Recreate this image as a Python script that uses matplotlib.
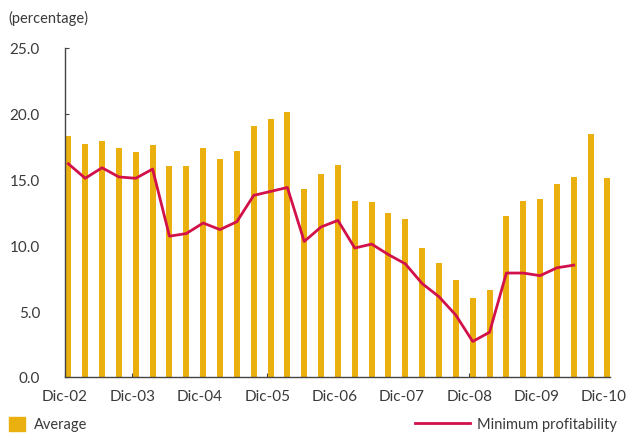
#!/usr/bin/env python3
"""Average vs minimum profitability, quarterly Dic-02 to Dic-10."""

import matplotlib
matplotlib.use("Agg")
import matplotlib.pyplot as plt
from matplotlib.patches import Patch
from matplotlib.lines import Line2D
import numpy as np

# Quarterly values, Dic-02 .. Dic-10 (33 quarters)
average = [
    18.3, 17.7, 17.9, 17.4, 17.1, 17.6, 16.0, 16.0, 17.4, 16.6, 17.2,
    19.1, 19.6, 20.1, 14.3, 15.4, 16.1, 13.4, 13.3, 12.5, 12.0, 9.8,
    8.7, 7.4, 6.0, 6.6, 12.2, 13.4, 13.5, 14.7, 15.2, 18.5, 15.1,
]
# Minimum profitability stops at Jun-10 (31 quarters)
minimum = [
    16.2, 15.1, 15.9, 15.2, 15.1, 15.8, 10.7, 10.9, 11.7, 11.2, 11.8,
    13.8, 14.1, 14.4, 10.3, 11.4, 11.9, 9.8, 10.1, 9.3, 8.6, 7.1,
    6.1, 4.7, 2.7, 3.4, 7.9, 7.9, 7.7, 8.3, 8.5,
]
tick_labels = ["Dic-02", "Dic-03", "Dic-04", "Dic-05", "Dic-06",
               "Dic-07", "Dic-08", "Dic-09", "Dic-10"]

GOLD = "#E9B00F"
RED = "#D2104A"
TEXT = "#3a3a3a"
AXIS = "#444444"

plt.rcParams["font.family"] = ["Lato", "DejaVu Sans"]
plt.rcParams["font.size"] = 10

fig = plt.figure(figsize=(6.29, 4.35), dpi=100)
ax = fig.add_axes([65 / 629, 1 - 378 / 435, (610 - 65) / 629, (378 - 49) / 435])

offset = 0.2
xb = np.arange(len(average)) + offset
xl = np.arange(len(minimum)) + offset
ax.bar(xb, average, width=0.36, color=GOLD, zorder=2)
ax.plot(xl, minimum, color=RED, linewidth=2.0, zorder=3)

ax.set_xlim(0, 32.35)
ax.set_ylim(0, 25)
ax.set_yticks(np.arange(0, 25.1, 5))
ax.set_yticklabels([f"{v:.1f}" for v in np.arange(0, 25.1, 5)])
ax.set_xticks(np.arange(0, 33, 4))
ax.set_xticklabels(tick_labels)

for side in ("top", "right"):
    ax.spines[side].set_visible(False)
for side in ("left", "bottom"):
    ax.spines[side].set_color(AXIS)
    ax.spines[side].set_linewidth(1.0)
ax.tick_params(axis="y", direction="in", length=3, pad=18, colors=AXIS,
               labelcolor=TEXT, labelsize=11)
ax.tick_params(axis="x", direction="in", length=3, pad=9, colors=AXIS,
               labelcolor=TEXT, labelsize=11)

fig.text(8 / 629, 1 - 18 / 435, "(percentage)", color=TEXT, fontsize=10.5,
         va="center", ha="left")

leg1 = fig.legend(handles=[Patch(color=GOLD, label="Average")],
                  loc="center left", bbox_to_anchor=(-0.004, 1 - 425 / 435),
                  frameon=False, fontsize=10.5, handlelength=1.1,
                  handleheight=1.1, handletextpad=0.6, borderpad=0.3,
                  labelcolor=TEXT)
leg2 = fig.legend(handles=[Line2D([], [], color=RED, linewidth=2.0,
                                  label="Minimum profitability")],
                  loc="center right", bbox_to_anchor=(1.0, 1 - 425 / 435),
                  frameon=False, fontsize=10.5, handlelength=3.8,
                  handletextpad=0.5, borderpad=0.3, labelcolor=TEXT)

fig.savefig("out.png", dpi=100)
